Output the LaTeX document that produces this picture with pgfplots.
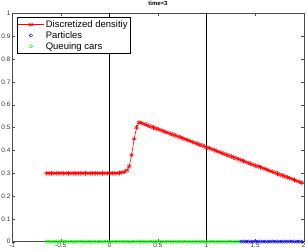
\documentclass[border=0pt]{standalone}
\usepackage{fontspec}
\setmainfont{Liberation Sans}
\usepackage{pgfplots}
\pgfplotsset{compat=1.18}
\begin{document}
\begin{tikzpicture}
\begin{axis}[
 scale only axis, width=294bp, height=230bp,
 xmin=-1,xmax=2,ymin=0,ymax=1,
 xtick={-1,-0.5,0,0.5,1,1.5,2},
 ytick={0,0.1,0.2,0.3,0.4,0.5,0.6,0.7,0.8,0.9,1},
 tick align=inside, tick pos=both,
 major tick length=2.5bp,
 axis line style={gray!60!black},
 tick style={gray!60!black},
 ticklabel style={font=\fontsize{6.5}{7}\selectfont, text=black!80},
 yticklabel style={inner sep=1.5bp},
 xticklabel style={inner sep=1.5bp},
 /pgf/number format/assume math mode=true,
 title={\textbf{time=3}},
 title style={font=\fontsize{6}{7}\selectfont, at={(0.5,1)}, anchor=south, inner sep=1.5bp},
 legend style={at={(0.016,0.983)}, anchor=north west, font=\fontsize{9.6}{10}\selectfont, draw=black, inner sep=1bp, row sep=-1.5pt, legend cell align=left},
 legend image code/.code={\draw[mark repeat=2,mark phase=2,#1] plot coordinates {(0cm,0cm) (0.45cm,0cm) (0.9cm,0cm)};},
]
\addplot[red, mark=asterisk, mark size=2.4bp, line width=0.6pt] coordinates {
(-0.645,0.3)(-0.62,0.3)(-0.595,0.3)(-0.57,0.3)(-0.545,0.3)(-0.52,0.3)(-0.495,0.3)(-0.47,0.3)(-0.445,0.3)(-0.42,0.3)(-0.395,0.3)(-0.37,0.3)(-0.345,0.3)(-0.32,0.3)(-0.295,0.3)(-0.27,0.3)(-0.245,0.3)(-0.22,0.3)(-0.195,0.3)(-0.17,0.3)(-0.145,0.3)(-0.12,0.3)(-0.095,0.3)(-0.07,0.3)(-0.045,0.3)(-0.02,0.3)(0.005,0.3)(0.03,0.3)(0.055,0.3)(0.08,0.3)
(0.105,0.301)(0.13,0.303)(0.155,0.306)(0.18,0.312)(0.205,0.33)(0.23,0.38)(0.255,0.45)(0.28,0.50)(0.305,0.522)
(0.33,0.520)(0.355,0.516)(0.38,0.512)(0.405,0.508)(0.43,0.504)(0.455,0.500)(0.48,0.496)(0.505,0.492)(0.53,0.488)(0.555,0.484)(0.58,0.480)(0.605,0.477)(0.63,0.473)(0.655,0.469)(0.68,0.465)(0.705,0.461)(0.73,0.457)(0.755,0.453)(0.78,0.449)(0.805,0.445)(0.83,0.441)(0.855,0.437)(0.88,0.433)(0.905,0.429)(0.93,0.425)(0.955,0.421)(0.98,0.417)(1.005,0.413)(1.03,0.409)(1.055,0.405)(1.08,0.401)(1.105,0.397)(1.13,0.393)(1.155,0.389)(1.18,0.385)(1.205,0.381)(1.23,0.377)(1.255,0.373)(1.28,0.369)(1.305,0.365)(1.33,0.361)(1.355,0.357)(1.38,0.353)(1.405,0.349)(1.43,0.345)(1.455,0.341)(1.48,0.337)(1.505,0.333)(1.53,0.330)(1.555,0.326)(1.58,0.322)(1.605,0.318)(1.63,0.314)(1.655,0.310)(1.68,0.306)(1.705,0.302)(1.73,0.298)(1.755,0.294)(1.78,0.290)(1.805,0.286)(1.83,0.282)(1.855,0.278)(1.88,0.274)(1.905,0.270)(1.93,0.266)(1.955,0.262)(1.98,0.258)(2.005,0.254)
};
\addlegendentry{Discretized densitiy}
\addplot[only marks, blue, mark=o, mark size=1.7bp, line width=0.45pt] coordinates {
(1.355,0)(1.38,0)(1.405,0)(1.43,0)(1.455,0)(1.48,0)(1.505,0)(1.53,0)(1.555,0)(1.58,0)(1.605,0)(1.63,0)(1.655,0)(1.68,0)(1.705,0)(1.73,0)(1.755,0)(1.78,0)(1.805,0)(1.83,0)(1.855,0)(1.88,0)(1.905,0)(1.93,0)(1.955,0)(1.98,0)(2.005,0)
};
\addlegendentry{Particles}
\addplot[only marks, green, mark=o, mark size=1.7bp, line width=0.45pt] coordinates {
(-0.645,0)(-0.62,0)(-0.595,0)(-0.57,0)(-0.545,0)(-0.52,0)(-0.495,0)(-0.47,0)(-0.445,0)(-0.42,0)(-0.395,0)(-0.37,0)(-0.345,0)(-0.32,0)(-0.295,0)(-0.27,0)(-0.245,0)(-0.22,0)(-0.195,0)(-0.17,0)(-0.145,0)(-0.12,0)(-0.095,0)(-0.07,0)(-0.045,0)(-0.02,0)(0.005,0)(0.03,0)(0.055,0)(0.08,0)(0.105,0)(0.13,0)(0.155,0)(0.18,0)(0.205,0)(0.23,0)(0.255,0)(0.28,0)(0.305,0)(0.33,0)(0.355,0)(0.38,0)(0.405,0)(0.43,0)(0.455,0)(0.48,0)(0.505,0)(0.53,0)(0.555,0)(0.58,0)(0.605,0)(0.63,0)(0.655,0)(0.68,0)(0.705,0)(0.73,0)(0.755,0)(0.78,0)(0.805,0)(0.83,0)(0.855,0)(0.88,0)(0.905,0)(0.93,0)(0.955,0)(0.98,0)(1.005,0)(1.03,0)(1.055,0)(1.08,0)(1.105,0)(1.13,0)(1.155,0)(1.18,0)(1.205,0)(1.23,0)(1.255,0)(1.28,0)(1.305,0)(1.33,0)
};
\addlegendentry{Queuing cars}
\addplot[black, line width=0.5pt, forget plot] coordinates {(0,0)(0,1)};
\addplot[black, line width=0.5pt, forget plot] coordinates {(1,0)(1,1)};
\end{axis}
\end{tikzpicture}
\end{document}
